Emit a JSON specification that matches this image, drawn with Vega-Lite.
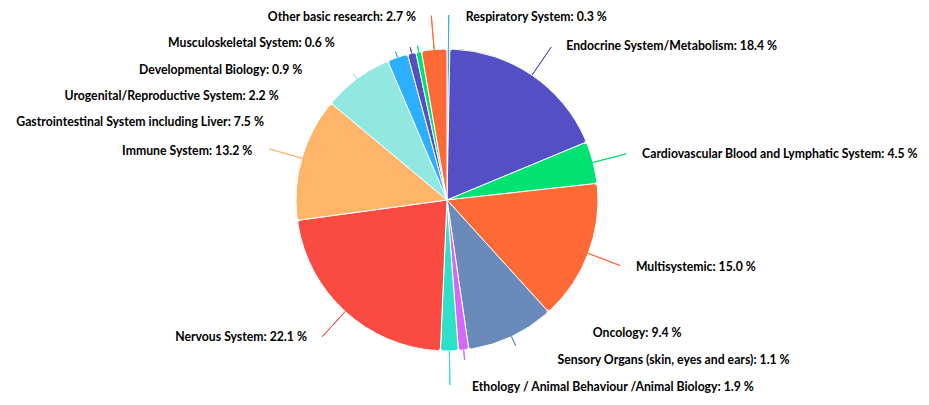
{
  "$schema": "https://vega.github.io/schema/vega-lite/v6.json",
  "width": 894,
  "height": 400,
  "autosize": {"type": "none"},
  "padding": {"left": 0, "right": 35, "top": 0, "bottom": 5},
  "background": "#ffffff",
  "view": {"stroke": null},
  "data": {
    "values": [
      {"category": "Respiratory System", "value": 0.3},
      {"category": "Endocrine System/Metabolism", "value": 18.4},
      {"category": "Cardiovascular Blood and Lymphatic System", "value": 4.5},
      {"category": "Multisystemic", "value": 15.0},
      {"category": "Oncology", "value": 9.4},
      {"category": "Sensory Organs (skin, eyes and ears)", "value": 1.1},
      {"category": "Ethology / Animal Behaviour /Animal Biology", "value": 1.9},
      {"category": "Nervous System", "value": 22.1},
      {"category": "Immune System", "value": 13.2},
      {"category": "Gastrointestinal System including Liver", "value": 7.5},
      {"category": "Urogenital/Reproductive System", "value": 2.2},
      {"category": "Developmental Biology", "value": 0.9},
      {"category": "Musculoskeletal System", "value": 0.6},
      {"category": "Other basic research", "value": 2.7}
    ]
  },
  "transform": [
    {"window": [{"op": "row_number", "as": "idx"}]},
    {"stack": "value", "groupby": [], "offset": "normalize", "sort": [{"field": "idx", "order": "ascending"}], "as": ["v0", "v1"]},
    {"calculate": "(datum.v0 + datum.v1) / 2", "as": "mid"},
    {"calculate": "datum.category + ': ' + format(datum.value, '.1f') + ' %'", "as": "label"}
  ],
  "resolve": {"scale": {"theta": "shared"}},
  "layer": [
    {
      "mark": {"type": "arc", "outerRadius": 151, "stroke": "#ffffff", "strokeWidth": 1, "cornerRadius": 3},
      "encoding": {
        "theta": {"field": "v0", "type": "quantitative", "scale": {"domain": [0, 1], "nice": false}},
        "theta2": {"field": "v1"},
        "color": {
          "field": "category", "type": "nominal", "legend": null,
          "scale": {
            "domain": ["Respiratory System", "Endocrine System/Metabolism", "Cardiovascular Blood and Lymphatic System", "Multisystemic", "Oncology", "Sensory Organs (skin, eyes and ears)", "Ethology / Animal Behaviour /Animal Biology", "Nervous System", "Immune System", "Gastrointestinal System including Liver", "Urogenital/Reproductive System", "Developmental Biology", "Musculoskeletal System", "Other basic research"],
            "range": ["#2caffe", "#544fc5", "#00e272", "#fe6a35", "#6b8abc", "#d568fb", "#2ee0ca", "#fa4b42", "#feb56a", "#91e8e1", "#2caffe", "#544fc5", "#00e272", "#fe6a35"]
          }
        }
      }
    },
    {
      "transform": [{"filter": {"field": "category", "oneOf": ["Respiratory System", "Endocrine System/Metabolism", "Cardiovascular Blood and Lymphatic System", "Multisystemic", "Nervous System", "Immune System", "Other basic research", "Ethology / Animal Behaviour /Animal Biology"]}}],
      "mark": {"type": "arc", "innerRadius": 151, "outerRadius": 185, "padAngle": 3.1, "filled": false, "strokeWidth": 1},
      "encoding": {
        "theta": {"field": "v0", "type": "quantitative", "scale": {"domain": [0, 1], "nice": false}},
        "theta2": {"field": "v1"},
        "color": {"field": "category", "type": "nominal", "legend": null}
      }
    },
    {
      "transform": [{"filter": {"field": "category", "oneOf": ["Oncology", "Sensory Organs (skin, eyes and ears)"]}}],
      "mark": {"type": "arc", "innerRadius": 151, "outerRadius": 161, "padAngle": 3.1, "filled": false, "strokeWidth": 1},
      "encoding": {
        "theta": {"field": "v0", "type": "quantitative", "scale": {"domain": [0, 1], "nice": false}},
        "theta2": {"field": "v1"},
        "color": {"field": "category", "type": "nominal", "legend": null}
      }
    },
    {
      "transform": [{"filter": {"field": "category", "oneOf": ["Gastrointestinal System including Liver", "Urogenital/Reproductive System", "Developmental Biology", "Musculoskeletal System"]}}],
      "mark": {"type": "arc", "innerRadius": 151, "outerRadius": 157, "padAngle": 3.1, "filled": false, "strokeWidth": 1},
      "encoding": {
        "theta": {"field": "v0", "type": "quantitative", "scale": {"domain": [0, 1], "nice": false}},
        "theta2": {"field": "v1"},
        "color": {"field": "category", "type": "nominal", "legend": null}
      }
    },
    {
      "transform": [{"filter": {"field": "category", "oneOf": ["Endocrine System/Metabolism", "Cardiovascular Blood and Lymphatic System", "Multisystemic"]}}],
      "mark": {"type": "text", "radius": 187, "align": "left", "baseline": "middle", "dx": 14, "dy": 0.5, "font": "Lato", "fontSize": 12.25, "fontWeight": "bold", "fill": "#000000"},
      "encoding": {"theta": {"field": "mid", "type": "quantitative", "scale": {"domain": [0, 1], "nice": false}}, "text": {"field": "label"}}
    },
    {
      "transform": [{"filter": {"field": "category", "oneOf": ["Respiratory System"]}}],
      "mark": {"type": "text", "radius": 187, "align": "left", "baseline": "middle", "dx": 17, "dy": 4, "font": "Lato", "fontSize": 12.25, "fontWeight": "bold", "fill": "#000000"},
      "encoding": {"theta": {"field": "mid", "type": "quantitative", "scale": {"domain": [0, 1], "nice": false}}, "text": {"field": "label"}}
    },
    {
      "transform": [{"filter": {"field": "category", "oneOf": ["Ethology / Animal Behaviour /Animal Biology"]}}],
      "mark": {"type": "text", "radius": 187, "align": "left", "baseline": "middle", "dx": 22, "dy": 0, "font": "Lato", "fontSize": 12.25, "fontWeight": "bold", "fill": "#000000"},
      "encoding": {"theta": {"field": "mid", "type": "quantitative", "scale": {"domain": [0, 1], "nice": false}}, "text": {"field": "label"}}
    },
    {
      "transform": [{"filter": {"field": "category", "oneOf": ["Oncology"]}}],
      "mark": {"type": "text", "radius": 187, "align": "left", "baseline": "middle", "dx": 66, "dy": -36, "font": "Lato", "fontSize": 12.25, "fontWeight": "bold", "fill": "#000000"},
      "encoding": {"theta": {"field": "mid", "type": "quantitative", "scale": {"domain": [0, 1], "nice": false}}, "text": {"field": "label"}}
    },
    {
      "transform": [{"filter": {"field": "category", "oneOf": ["Sensory Organs (skin, eyes and ears)"]}}],
      "mark": {"type": "text", "radius": 187, "align": "left", "baseline": "middle", "dx": 90, "dy": -26, "font": "Lato", "fontSize": 12.25, "fontWeight": "bold", "fill": "#000000"},
      "encoding": {"theta": {"field": "mid", "type": "quantitative", "scale": {"domain": [0, 1], "nice": false}}, "text": {"field": "label"}}
    },
    {
      "transform": [{"filter": {"field": "category", "oneOf": ["Nervous System"]}}],
      "mark": {"type": "text", "radius": 187, "align": "right", "baseline": "middle", "dx": -14, "dy": -1.5, "font": "Lato", "fontSize": 12.25, "fontWeight": "bold", "fill": "#000000"},
      "encoding": {"theta": {"field": "mid", "type": "quantitative", "scale": {"domain": [0, 1], "nice": false}}, "text": {"field": "label"}}
    },
    {
      "transform": [{"filter": {"field": "category", "oneOf": ["Immune System", "Other basic research"]}}],
      "mark": {"type": "text", "radius": 187, "align": "right", "baseline": "middle", "dx": -15, "dy": 3, "font": "Lato", "fontSize": 12.25, "fontWeight": "bold", "fill": "#000000"},
      "encoding": {"theta": {"field": "mid", "type": "quantitative", "scale": {"domain": [0, 1], "nice": false}}, "text": {"field": "label"}}
    },
    {
      "transform": [{"filter": {"field": "category", "oneOf": ["Gastrointestinal System including Liver"]}}],
      "mark": {"type": "text", "radius": 187, "align": "right", "baseline": "middle", "dx": -71.5, "dy": 72, "font": "Lato", "fontSize": 12.25, "fontWeight": "bold", "fill": "#000000"},
      "encoding": {"theta": {"field": "mid", "type": "quantitative", "scale": {"domain": [0, 1], "nice": false}}, "text": {"field": "label"}}
    },
    {
      "transform": [{"filter": {"field": "category", "oneOf": ["Urogenital/Reproductive System"]}}],
      "mark": {"type": "text", "radius": 187, "align": "right", "baseline": "middle", "dx": -107, "dy": 73, "font": "Lato", "fontSize": 12.25, "fontWeight": "bold", "fill": "#000000"},
      "encoding": {"theta": {"field": "mid", "type": "quantitative", "scale": {"domain": [0, 1], "nice": false}}, "text": {"field": "label"}}
    },
    {
      "transform": [{"filter": {"field": "category", "oneOf": ["Developmental Biology"]}}],
      "mark": {"type": "text", "radius": 187, "align": "right", "baseline": "middle", "dx": -101, "dy": 52, "font": "Lato", "fontSize": 12.25, "fontWeight": "bold", "fill": "#000000"},
      "encoding": {"theta": {"field": "mid", "type": "quantitative", "scale": {"domain": [0, 1], "nice": false}}, "text": {"field": "label"}}
    },
    {
      "transform": [{"filter": {"field": "category", "oneOf": ["Musculoskeletal System"]}}],
      "mark": {"type": "text", "radius": 187, "align": "right", "baseline": "middle", "dx": -77, "dy": 27, "font": "Lato", "fontSize": 12.25, "fontWeight": "bold", "fill": "#000000"},
      "encoding": {"theta": {"field": "mid", "type": "quantitative", "scale": {"domain": [0, 1], "nice": false}}, "text": {"field": "label"}}
    }
  ]
}
